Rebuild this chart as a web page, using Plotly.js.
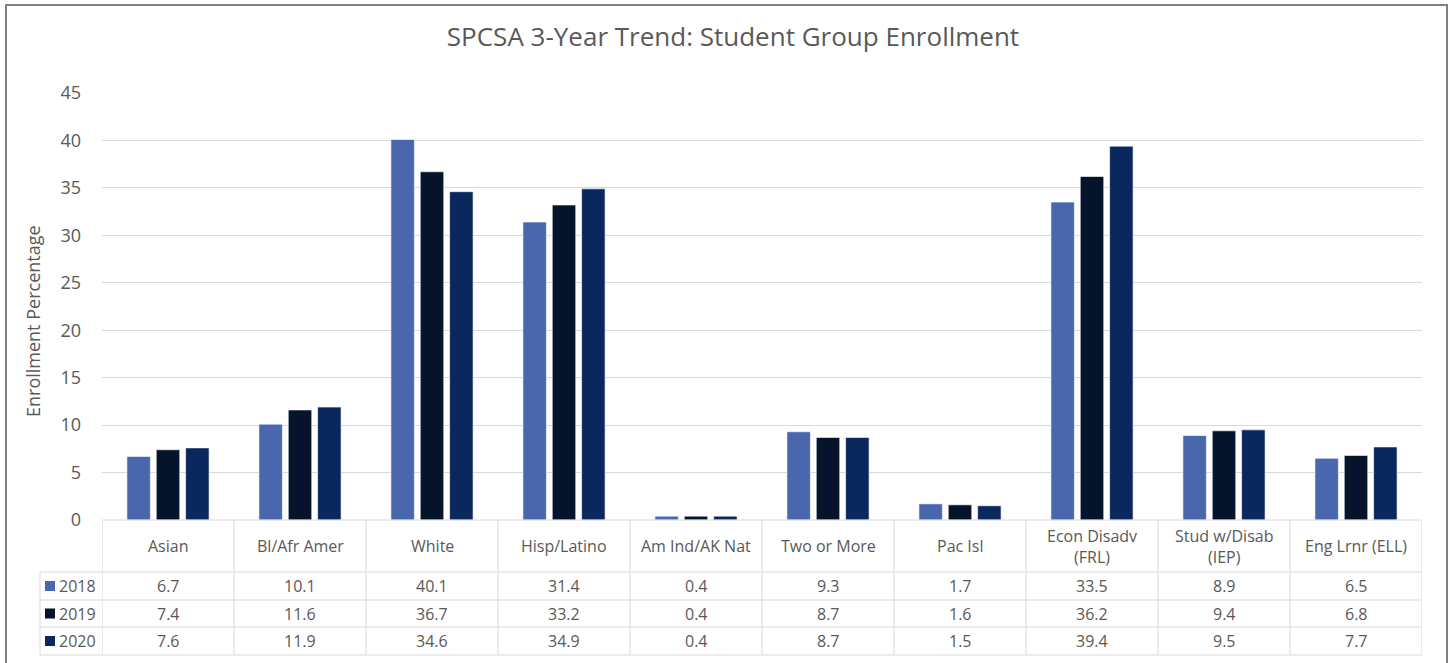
<!DOCTYPE html>
<html>
<head>
<meta charset="utf-8">
<script src="https://cdn.plot.ly/plotly-3.0.1.min.js"></script>
<style>
html,body{margin:0;padding:0;background:#fff;}
#chart{width:1452px;height:663px;}
</style>
</head>
<body>
<div id="chart"></div>
<script>
// ---- data ----
const categories = ["Asian", "Bl/Afr Amer", "White", "Hisp/Latino", "Am Ind/AK Nat",
  "Two or More", "Pac Isl", "Econ Disadv<br>(FRL)", "Stud w/Disab<br>(IEP)", "Eng Lrnr (ELL)"];
const years = ["2018", "2019", "2020"];
const values2018 = [6.7, 10.1, 40.1, 31.4, 0.4, 9.3, 1.7, 33.5, 8.9, 6.5];
const values2019 = [7.4, 11.6, 36.7, 33.2, 0.4, 8.7, 1.6, 36.2, 9.4, 6.8];
const values2020 = [7.6, 11.9, 34.6, 34.9, 0.4, 8.7, 1.5, 39.4, 9.5, 7.7];
const colors = ["#4a66ac", "#05132b", "#0a285e"];
const yTicks = [0, 5, 10, 15, 20, 25, 30, 35, 40, 45];

const series = [values2018, values2019, values2020];
const W = 1452, H = 663;
const mL = 102, mR = 30, mT = 93, mB = 143;
const plotH = H - mT - mB, plotW = W - mL - mR;
const py = p => (H - mB - p) / plotH;   // pixel y -> paper y
const px = p => (p - mL) / plotW;       // pixel x -> paper x
const textColor = "#595959";
const lineColor = "#d9d9d9";
const fontFam = "'Open Sans', 'Noto Sans', sans-serif";

const traces = series.map((vals, i) => ({
  type: "bar",
  name: years[i],
  x: categories,
  y: vals,
  marker: {color: colors[i], line: {color: "rgba(255,255,255,0.6)", width: 1}},
  hoverinfo: "x+y+name"
}));

const shapes = [];
const annotations = [];

// Outer frame
shapes.push({type: "rect", xref: "paper", yref: "paper",
  x0: px(6), x1: px(1447), y0: py(700), y1: py(5),
  line: {color: "#808080", width: 2}, layer: "below"});

// Table geometry (pixel rows)
const headerBottom = 572;
const rowLines = [600, 627, 655];
const rowCenters = [586, 613.5, 641];
const tableBottom = 655;

shapes.push({type: "line", xref: "paper", yref: "paper", x0: 0, x1: 1, y0: 0, y1: 0,
  line: {color: lineColor, width: 1}});
[headerBottom].concat(rowLines).forEach(r => {
  shapes.push({type: "line", xref: "paper", yref: "paper", x0: px(40), x1: 1,
    y0: py(r), y1: py(r), line: {color: lineColor, width: 1}});
});
for (let k = 0; k <= categories.length; k++) {
  shapes.push({type: "line", xref: "x", yref: "paper", x0: k - 0.5, x1: k - 0.5,
    y0: 0, y1: py(tableBottom), line: {color: lineColor, width: 1}});
}
shapes.push({type: "line", xref: "paper", yref: "paper", x0: px(40), x1: px(40),
  y0: py(headerBottom), y1: py(tableBottom), line: {color: lineColor, width: 1}});

// header labels
categories.forEach(c => {
  annotations.push({xref: "x", yref: "paper", x: c, y: py(546), text: c,
    showarrow: false, xanchor: "center", yanchor: "middle",
    font: {family: fontFam, size: 16, color: textColor}});
});
// value cells + legend keys
series.forEach((vals, i) => {
  vals.forEach((v, j) => {
    annotations.push({xref: "x", yref: "paper", x: categories[j], y: py(rowCenters[i]),
      text: v.toFixed(1), showarrow: false, xanchor: "center", yanchor: "middle",
      font: {family: fontFam, size: 16, color: textColor}});
  });
  shapes.push({type: "rect", xref: "paper", yref: "paper",
    x0: px(45), x1: px(55), y0: py(rowCenters[i] + 5), y1: py(rowCenters[i] - 5),
    fillcolor: colors[i], line: {width: 0}});
  annotations.push({xref: "paper", yref: "paper", x: px(57), y: py(rowCenters[i]),
    text: years[i], showarrow: false, xanchor: "left", yanchor: "middle",
    font: {family: fontFam, size: 16, color: textColor}});
});

// y axis title
annotations.push({xref: "paper", yref: "paper", x: px(33), y: py(321),
  text: "Enrollment Percentage", textangle: -90, showarrow: false,
  xanchor: "center", yanchor: "middle",
  font: {family: fontFam, size: 18, color: textColor}});

const layout = {
  width: W, height: H,
  margin: {l: mL, r: mR, t: mT, b: mB, pad: 0},
  paper_bgcolor: "#ffffff", plot_bgcolor: "#ffffff",
  title: {text: "SPCSA 3-Year Trend: Student Group Enrollment",
    x: 733 / W, xref: "container", xanchor: "center", y: 1 - 37 / H, yanchor: "middle",
    font: {family: fontFam, size: 26, color: textColor}},
  barmode: "group", bargap: 0.333, bargroupgap: 0.2,
  showlegend: false,
  font: {family: fontFam, color: textColor},
  xaxis: {type: "category", showticklabels: false, ticks: "", showgrid: false,
    zeroline: false, showline: false, range: [-0.5, categories.length - 0.5], fixedrange: true},
  yaxis: {range: [0, 45], tickvals: yTicks, ticks: "", showgrid: true,
    gridcolor: lineColor, gridwidth: 1, zeroline: false, showline: false,
    ticklabelstandoff: 20,
    tickfont: {family: fontFam, size: 18, color: textColor}, fixedrange: true},
  shapes: shapes,
  annotations: annotations
};

Plotly.newPlot("chart", traces, layout, {displayModeBar: false});
</script>
</body>
</html>
